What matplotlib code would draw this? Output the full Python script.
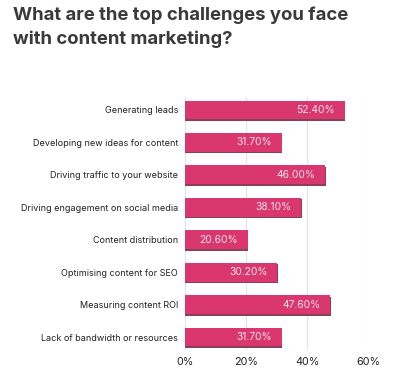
import matplotlib.pyplot as plt

categories = [
    "Generating leads",
    "Developing new ideas for content",
    "Driving traffic to your website",
    "Driving engagement on social media",
    "Content distribution",
    "Optimising content for SEO",
    "Measuring content ROI",
    "Lack of bandwidth or resources",
]
values = [52.4, 31.7, 46.0, 38.1, 20.6, 30.2, 47.6, 31.7]
xticks = [0, 20, 40, 60]
xtick_labels = ["0%", "20%", "40%", "60%"]

plt.rcParams['font.family'] = ['Inter', 'DejaVu Sans']

fig = plt.figure(figsize=(4.14, 3.84), dpi=100)
ax = fig.add_axes([0.447, 0.0885, 0.442, 0.659])

ypos = list(range(len(categories)))
# soft shadow behind bars
ax.barh([y + 0.05 for y in ypos], [v + 0.2 for v in values], height=0.58,
        color='#8a3f5c', zorder=2)
ax.barh(ypos, values, height=0.58, color='#d9376e', zorder=3)

for y, v in zip(ypos, values):
    ax.text(v - 3.2, y, f"{v:.2f}%", ha='right', va='center',
            color='#fde3ee', fontsize=7.4, zorder=4)

ax.set_xlim(0, 60)
ax.set_ylim(len(categories) - 0.6, -0.4)
ax.set_yticks(ypos)
ax.set_yticklabels(categories, fontsize=6.5, color='#222222')
ax.set_xticks(xticks)
ax.set_xticklabels(xtick_labels, fontsize=7.8, color='#222222')
ax.tick_params(length=0, pad=5)
ax.xaxis.grid(True, color='#e2e2e2', linewidth=0.8, zorder=0)
ax.set_axisbelow(True)
for s in ax.spines.values():
    s.set_visible(False)

fig.text(0.031, 0.982, "What are the top challenges you face\nwith content marketing?",
         ha='left', va='top', fontsize=13.3, fontweight='bold',
         color='#3a3a3a', linespacing=1.45)

fig.savefig("out.png", dpi=100)
